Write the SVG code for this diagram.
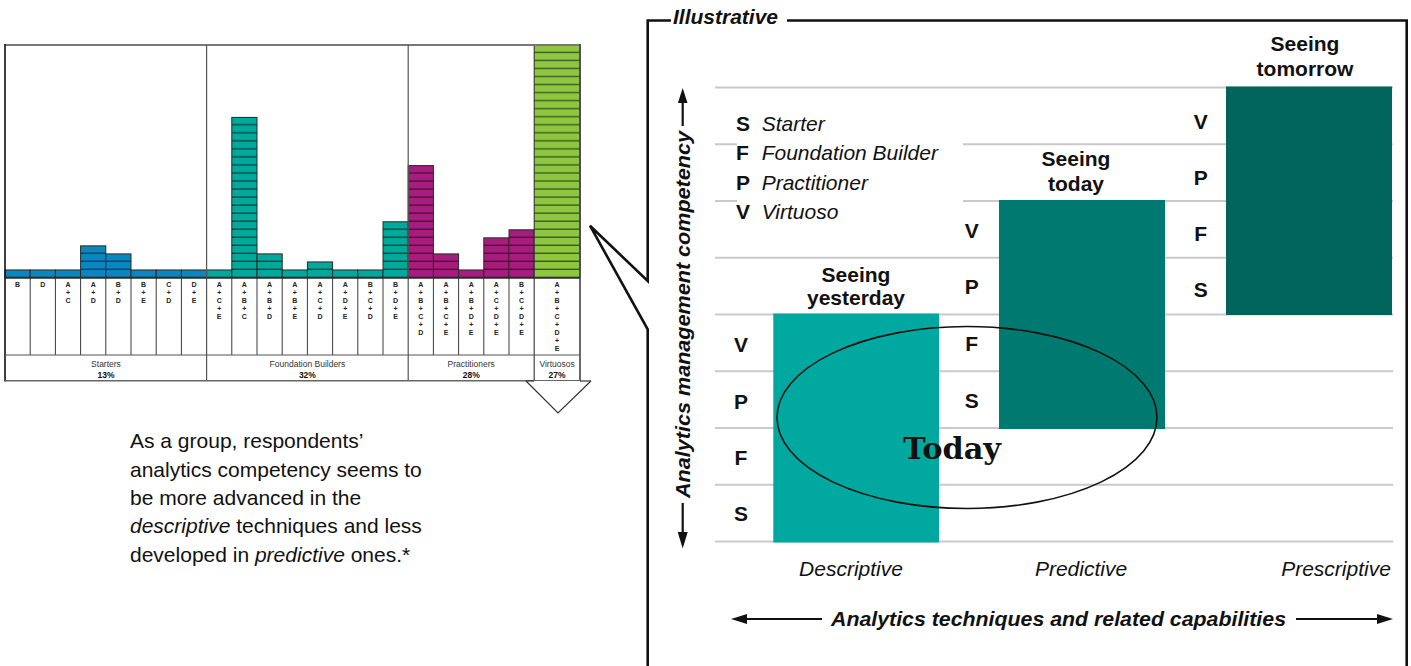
<svg xmlns="http://www.w3.org/2000/svg" width="1411" height="666" viewBox="0 0 1411 666">
<style>
.sans{font-family:"Liberation Sans",Arial,sans-serif;fill:#111}
.lbl{font-family:"Liberation Sans",Arial,sans-serif;font-size:7px;font-weight:bold;fill:#222;text-anchor:middle}
.grp{font-family:"Liberation Sans",Arial,sans-serif;font-size:8.5px;fill:#333;text-anchor:middle}
.pct{font-family:"Liberation Sans",Arial,sans-serif;font-size:8.5px;font-weight:bold;fill:#111;text-anchor:middle}
.big{font-family:"Liberation Sans",Arial,sans-serif;font-size:21px;font-weight:bold;fill:#111;text-anchor:middle}
.key{font-family:"Liberation Sans",Arial,sans-serif;font-size:21px;font-weight:bold;fill:#111}
.it{font-family:"Liberation Sans",Arial,sans-serif;font-size:21px;font-style:italic;fill:#111}
.bi{font-family:"Liberation Sans",Arial,sans-serif;font-size:21px;font-style:italic;font-weight:bold;fill:#111}
.grid{stroke:#c9c9c9;stroke-width:2.2}
.bar{stroke:#2a2a2a;stroke-width:1}
.cdiv{stroke:#3a3a3a;stroke-width:1}
.frame{fill:none;stroke:#111;stroke-width:2.6}
.arr{stroke:#111;stroke-width:2.2}
</style>
<defs>
<pattern id="pBlue" patternUnits="userSpaceOnUse" x="0" y="278" width="20" height="8.03"><rect width="20" height="8.03" fill="#0a87bf"/><rect y="6.73" width="20" height="1.3" fill="#183c4e"/></pattern>
<pattern id="pTeal" patternUnits="userSpaceOnUse" x="0" y="278" width="20" height="8.03"><rect width="20" height="8.03" fill="#00a99d"/><rect y="6.73" width="20" height="1.3" fill="#153f3c"/></pattern>
<pattern id="pMag" patternUnits="userSpaceOnUse" x="0" y="278" width="20" height="8.03"><rect width="20" height="8.03" fill="#a81c82"/><rect y="6.73" width="20" height="1.3" fill="#421232"/></pattern>
<pattern id="pGreen" patternUnits="userSpaceOnUse" x="0" y="278" width="20" height="8.03"><rect width="20" height="8.03" fill="#8dc63f"/><rect y="6.73" width="20" height="1.3" fill="#3b5120"/></pattern>
</defs>
<rect width="1411" height="666" fill="#fff"/>

<g id="left-chart">
  <g id="bars-starters">
    <rect class="bar" x="5" y="269.97" width="25.2" height="8.03" fill="url(#pBlue)"/>
    <rect class="bar" x="30.2" y="269.97" width="25.2" height="8.03" fill="url(#pBlue)"/>
    <rect class="bar" x="55.4" y="269.97" width="25.2" height="8.03" fill="url(#pBlue)"/>
    <rect class="bar" x="80.6" y="245.88" width="25.2" height="32.12" fill="url(#pBlue)"/>
    <rect class="bar" x="105.8" y="253.91" width="25.2" height="24.09" fill="url(#pBlue)"/>
    <rect class="bar" x="131" y="269.97" width="25.2" height="8.03" fill="url(#pBlue)"/>
    <rect class="bar" x="156.2" y="269.97" width="25.2" height="8.03" fill="url(#pBlue)"/>
    <rect class="bar" x="181.4" y="269.97" width="25.2" height="8.03" fill="url(#pBlue)"/>
  </g>
  <g id="bars-foundation">
    <rect class="bar" x="206.6" y="269.97" width="25.2" height="8.03" fill="url(#pTeal)"/>
    <rect class="bar" x="231.8" y="117.4" width="25.2" height="160.6" fill="url(#pTeal)"/>
    <rect class="bar" x="257" y="253.91" width="25.2" height="24.09" fill="url(#pTeal)"/>
    <rect class="bar" x="282.2" y="269.97" width="25.2" height="8.03" fill="url(#pTeal)"/>
    <rect class="bar" x="307.4" y="261.94" width="25.2" height="16.06" fill="url(#pTeal)"/>
    <rect class="bar" x="332.6" y="269.97" width="25.2" height="8.03" fill="url(#pTeal)"/>
    <rect class="bar" x="357.8" y="269.97" width="25.2" height="8.03" fill="url(#pTeal)"/>
    <rect class="bar" x="383" y="221.79" width="25.2" height="56.21" fill="url(#pTeal)"/>
  </g>
  <g id="bars-practitioners">
    <rect class="bar" x="408.2" y="165.58" width="25.2" height="112.42" fill="url(#pMag)"/>
    <rect class="bar" x="433.4" y="253.91" width="25.2" height="24.09" fill="url(#pMag)"/>
    <rect class="bar" x="458.6" y="269.97" width="25.2" height="8.03" fill="url(#pMag)"/>
    <rect class="bar" x="483.8" y="237.85" width="25.2" height="40.15" fill="url(#pMag)"/>
    <rect class="bar" x="509" y="229.82" width="25.2" height="48.18" fill="url(#pMag)"/>
  </g>
  <g id="bars-virtuosos">
    <rect class="bar" x="534.2" y="45.13" width="45.8" height="232.87" fill="url(#pGreen)"/>
  </g>
  <line x1="5" y1="45" x2="580" y2="45" stroke="#777" stroke-width="2"/>
  <line x1="5" y1="44" x2="5" y2="381.5" stroke="#111" stroke-width="1.6"/>
  <line x1="580" y1="44" x2="580" y2="381.5" stroke="#444" stroke-width="1.6"/>
  <line x1="206.6" y1="45" x2="206.6" y2="381" stroke="#555" stroke-width="1.2"/>
  <line x1="408.2" y1="45" x2="408.2" y2="381" stroke="#555" stroke-width="1.2"/>
  <line x1="534.2" y1="278" x2="534.2" y2="381" stroke="#444" stroke-width="1.2"/>
  <line x1="5" y1="278" x2="580" y2="278" stroke="#2a2a2a" stroke-width="1"/>
  <g class="cdiv">
    <line x1="30.2" y1="278" x2="30.2" y2="355"/><line x1="55.4" y1="278" x2="55.4" y2="355"/>
    <line x1="80.6" y1="278" x2="80.6" y2="355"/><line x1="105.8" y1="278" x2="105.8" y2="355"/>
    <line x1="131" y1="278" x2="131" y2="355"/><line x1="156.2" y1="278" x2="156.2" y2="355"/>
    <line x1="181.4" y1="278" x2="181.4" y2="355"/>
    <line x1="231.8" y1="278" x2="231.8" y2="355"/><line x1="257" y1="278" x2="257" y2="355"/>
    <line x1="282.2" y1="278" x2="282.2" y2="355"/><line x1="307.4" y1="278" x2="307.4" y2="355"/>
    <line x1="332.6" y1="278" x2="332.6" y2="355"/><line x1="357.8" y1="278" x2="357.8" y2="355"/>
    <line x1="383" y1="278" x2="383" y2="355"/>
    <line x1="433.4" y1="278" x2="433.4" y2="355"/><line x1="458.6" y1="278" x2="458.6" y2="355"/>
    <line x1="483.8" y1="278" x2="483.8" y2="355"/><line x1="509" y1="278" x2="509" y2="355"/>
  </g>
  <line x1="5" y1="355" x2="580" y2="355" stroke="#555" stroke-width="1.2"/>
  <line x1="5" y1="380.7" x2="580" y2="380.7" stroke="#666" stroke-width="1.5"/>
  <text class="lbl" y="287"><tspan x="17.6">B</tspan></text>
  <text class="lbl" y="287"><tspan x="42.8">D</tspan></text>
  <text class="lbl" y="287"><tspan x="68">A</tspan><tspan x="68" dy="8">+</tspan><tspan x="68" dy="8">C</tspan></text>
  <text class="lbl" y="287"><tspan x="93.2">A</tspan><tspan x="93.2" dy="8">+</tspan><tspan x="93.2" dy="8">D</tspan></text>
  <text class="lbl" y="287"><tspan x="118.4">B</tspan><tspan x="118.4" dy="8">+</tspan><tspan x="118.4" dy="8">D</tspan></text>
  <text class="lbl" y="287"><tspan x="143.6">B</tspan><tspan x="143.6" dy="8">+</tspan><tspan x="143.6" dy="8">E</tspan></text>
  <text class="lbl" y="287"><tspan x="168.8">C</tspan><tspan x="168.8" dy="8">+</tspan><tspan x="168.8" dy="8">D</tspan></text>
  <text class="lbl" y="287"><tspan x="194">D</tspan><tspan x="194" dy="8">+</tspan><tspan x="194" dy="8">E</tspan></text>

  <text class="lbl" y="287"><tspan x="219.2">A</tspan><tspan x="219.2" dy="8">+</tspan><tspan x="219.2" dy="8">C</tspan><tspan x="219.2" dy="8">+</tspan><tspan x="219.2" dy="8">E</tspan></text>
  <text class="lbl" y="287"><tspan x="244.4">A</tspan><tspan x="244.4" dy="8">+</tspan><tspan x="244.4" dy="8">B</tspan><tspan x="244.4" dy="8">+</tspan><tspan x="244.4" dy="8">C</tspan></text>
  <text class="lbl" y="287"><tspan x="269.6">A</tspan><tspan x="269.6" dy="8">+</tspan><tspan x="269.6" dy="8">B</tspan><tspan x="269.6" dy="8">+</tspan><tspan x="269.6" dy="8">D</tspan></text>
  <text class="lbl" y="287"><tspan x="294.8">A</tspan><tspan x="294.8" dy="8">+</tspan><tspan x="294.8" dy="8">B</tspan><tspan x="294.8" dy="8">+</tspan><tspan x="294.8" dy="8">E</tspan></text>
  <text class="lbl" y="287"><tspan x="320">A</tspan><tspan x="320" dy="8">+</tspan><tspan x="320" dy="8">C</tspan><tspan x="320" dy="8">+</tspan><tspan x="320" dy="8">D</tspan></text>
  <text class="lbl" y="287"><tspan x="345.2">A</tspan><tspan x="345.2" dy="8">+</tspan><tspan x="345.2" dy="8">D</tspan><tspan x="345.2" dy="8">+</tspan><tspan x="345.2" dy="8">E</tspan></text>
  <text class="lbl" y="287"><tspan x="370.4">B</tspan><tspan x="370.4" dy="8">+</tspan><tspan x="370.4" dy="8">C</tspan><tspan x="370.4" dy="8">+</tspan><tspan x="370.4" dy="8">D</tspan></text>
  <text class="lbl" y="287"><tspan x="395.6">B</tspan><tspan x="395.6" dy="8">+</tspan><tspan x="395.6" dy="8">D</tspan><tspan x="395.6" dy="8">+</tspan><tspan x="395.6" dy="8">E</tspan></text>

  <text class="lbl" y="287"><tspan x="420.8">A</tspan><tspan x="420.8" dy="8">+</tspan><tspan x="420.8" dy="8">B</tspan><tspan x="420.8" dy="8">+</tspan><tspan x="420.8" dy="8">C</tspan><tspan x="420.8" dy="8">+</tspan><tspan x="420.8" dy="8">D</tspan></text>
  <text class="lbl" y="287"><tspan x="446">A</tspan><tspan x="446" dy="8">+</tspan><tspan x="446" dy="8">B</tspan><tspan x="446" dy="8">+</tspan><tspan x="446" dy="8">C</tspan><tspan x="446" dy="8">+</tspan><tspan x="446" dy="8">E</tspan></text>
  <text class="lbl" y="287"><tspan x="471.2">A</tspan><tspan x="471.2" dy="8">+</tspan><tspan x="471.2" dy="8">B</tspan><tspan x="471.2" dy="8">+</tspan><tspan x="471.2" dy="8">D</tspan><tspan x="471.2" dy="8">+</tspan><tspan x="471.2" dy="8">E</tspan></text>
  <text class="lbl" y="287"><tspan x="496.4">A</tspan><tspan x="496.4" dy="8">+</tspan><tspan x="496.4" dy="8">C</tspan><tspan x="496.4" dy="8">+</tspan><tspan x="496.4" dy="8">D</tspan><tspan x="496.4" dy="8">+</tspan><tspan x="496.4" dy="8">E</tspan></text>
  <text class="lbl" y="287"><tspan x="521.6">B</tspan><tspan x="521.6" dy="8">+</tspan><tspan x="521.6" dy="8">C</tspan><tspan x="521.6" dy="8">+</tspan><tspan x="521.6" dy="8">D</tspan><tspan x="521.6" dy="8">+</tspan><tspan x="521.6" dy="8">E</tspan></text>

  <text class="lbl" y="287"><tspan x="557.1">A</tspan><tspan x="557.1" dy="8">+</tspan><tspan x="557.1" dy="8">B</tspan><tspan x="557.1" dy="8">+</tspan><tspan x="557.1" dy="8">C</tspan><tspan x="557.1" dy="8">+</tspan><tspan x="557.1" dy="8">D</tspan><tspan x="557.1" dy="8">+</tspan><tspan x="557.1" dy="8">E</tspan></text>
  <text class="grp" x="106" y="366.5">Starters</text><text class="pct" x="106" y="377.5">13%</text>
  <text class="grp" x="307.4" y="366.5">Foundation Builders</text><text class="pct" x="307.4" y="377.5">32%</text>
  <text class="grp" x="471.2" y="366.5">Practitioners</text><text class="pct" x="471.2" y="377.5">28%</text>
  <text class="grp" x="557.1" y="366.5">Virtuosos</text><text class="pct" x="557.1" y="377.5">27%</text>
  <polyline points="526,381 558,413 591,381" fill="#fff" stroke="#333" stroke-width="1.2"/>
  <line x1="526" y1="381" x2="534.2" y2="381" stroke="#333" stroke-width="1.2"/>
  <line x1="580" y1="381" x2="591" y2="381" stroke="#333" stroke-width="1.2"/>
</g>

<g id="paragraph" class="sans" font-size="21">
  <text x="130" y="448">As a group, respondents’</text>
  <text x="130" y="476.5">analytics competency seems to</text>
  <text x="130" y="505">be more advanced in the</text>
  <text x="130" y="533"><tspan font-style="italic">descriptive</tspan> techniques and less</text>
  <text x="130" y="561.5">developed in <tspan font-style="italic">predictive</tspan> ones.*</text>
</g>

<g id="grid">
  <line class="grid" x1="715" y1="87.5" x2="1393" y2="87.5"/>
  <line class="grid" x1="715" y1="144.25" x2="1393" y2="144.25"/>
  <line class="grid" x1="715" y1="201" x2="1393" y2="201"/>
  <line class="grid" x1="715" y1="257.75" x2="1393" y2="257.75"/>
  <line class="grid" x1="715" y1="314.5" x2="1393" y2="314.5"/>
  <line class="grid" x1="715" y1="371.25" x2="1393" y2="371.25"/>
  <line class="grid" x1="715" y1="428" x2="1393" y2="428"/>
  <line class="grid" x1="715" y1="484.75" x2="1393" y2="484.75"/>
  <line class="grid" x1="715" y1="541.5" x2="1393" y2="541.5"/>
</g>

<g id="legend">
  <rect x="737" y="104" width="226" height="124" fill="#fff"/>
  <text class="key" x="736" y="130.7">S</text><text class="it" x="761.7" y="130.7">Starter</text>
  <text class="key" x="736" y="160">F</text><text class="it" x="761.7" y="160">Foundation Builder</text>
  <text class="key" x="736" y="189.5">P</text><text class="it" x="761.7" y="189.5">Practitioner</text>
  <text class="key" x="736" y="219">V</text><text class="it" x="761.7" y="219">Virtuoso</text>
</g>

<g id="bar-yesterday">
  <rect x="773.3" y="313.5" width="165.7" height="229" fill="#00a89f"/>
  <text class="big" x="856" y="281.5">Seeing</text>
  <text class="big" x="856" y="305">yesterday</text>
  <text class="big" x="741" y="351.8">V</text>
  <text class="big" x="741" y="408.5">P</text>
  <text class="big" x="741" y="465.2">F</text>
  <text class="big" x="741" y="520.8">S</text>
</g>

<g id="bar-today">
  <rect x="999" y="200" width="166" height="229" fill="#007a70"/>
  <text class="big" x="1076" y="165.5">Seeing</text>
  <text class="big" x="1076" y="190.5">today</text>
  <text class="big" x="971.7" y="237.5">V</text>
  <text class="big" x="971.7" y="294.2">P</text>
  <text class="big" x="971.7" y="350.5">F</text>
  <text class="big" x="971.7" y="407.5">S</text>
</g>

<g id="bar-tomorrow">
  <rect x="1226" y="86.5" width="166" height="228.5" fill="#00645a"/>
  <text class="big" x="1305" y="50.5">Seeing</text>
  <text class="big" x="1305" y="75.5">tomorrow</text>
  <text class="big" x="1200.7" y="129.2">V</text>
  <text class="big" x="1200.7" y="185.2">P</text>
  <text class="big" x="1200.7" y="240.8">F</text>
  <text class="big" x="1200.7" y="296.8">S</text>
</g>

<g id="today-ellipse">
  <ellipse cx="967" cy="417.5" rx="190" ry="91" fill="none" stroke="#111" stroke-width="1.6"/>
  <text x="903" y="459.3" font-family="'DejaVu Serif',serif" font-weight="bold" font-size="30" fill="#111" textLength="98" lengthAdjust="spacingAndGlyphs">Today</text>
</g>

<g id="panel-frame">
  <path class="frame" d="M671 20.5 H647.7 V281 L590 225.7 L647.7 329.3 V668"/>
  <path class="frame" d="M787 20.5 H1406.7 V668"/>
  <text class="bi" x="673" y="23.5">Illustrative</text>
</g>

<g id="axis-labels">
  <text class="it" x="851" y="576" text-anchor="middle">Descriptive</text>
  <text class="it" x="1081" y="576" text-anchor="middle">Predictive</text>
  <text class="it" x="1336" y="576" text-anchor="middle">Prescriptive</text>
  <text class="bi" x="1058.5" y="626" text-anchor="middle" font-size="20.5" textLength="455" lengthAdjust="spacingAndGlyphs">Analytics techniques and related capabilities</text>
  <text class="bi" transform="translate(689.5,314.5) rotate(-90)" x="0" y="0" text-anchor="middle" font-size="20.5" textLength="367" lengthAdjust="spacingAndGlyphs">Analytics management competency</text>
</g>

<g id="connectors">
  <line class="arr" x1="682.7" y1="101" x2="682.7" y2="126"/>
  <polygon points="682.7,88 687.5,103 677.9,103" fill="#111"/>
  <line class="arr" x1="682.7" y1="503" x2="682.7" y2="534"/>
  <polygon points="682.7,548.5 687.7,532 677.7,532" fill="#111"/>
  <line class="arr" x1="744" y1="619" x2="822" y2="619"/>
  <polygon points="731,619 747,614 747,624" fill="#111"/>
  <line class="arr" x1="1296" y1="619" x2="1378" y2="619"/>
  <polygon points="1393,619 1377,614 1377,624" fill="#111"/>
</g>
</svg>
